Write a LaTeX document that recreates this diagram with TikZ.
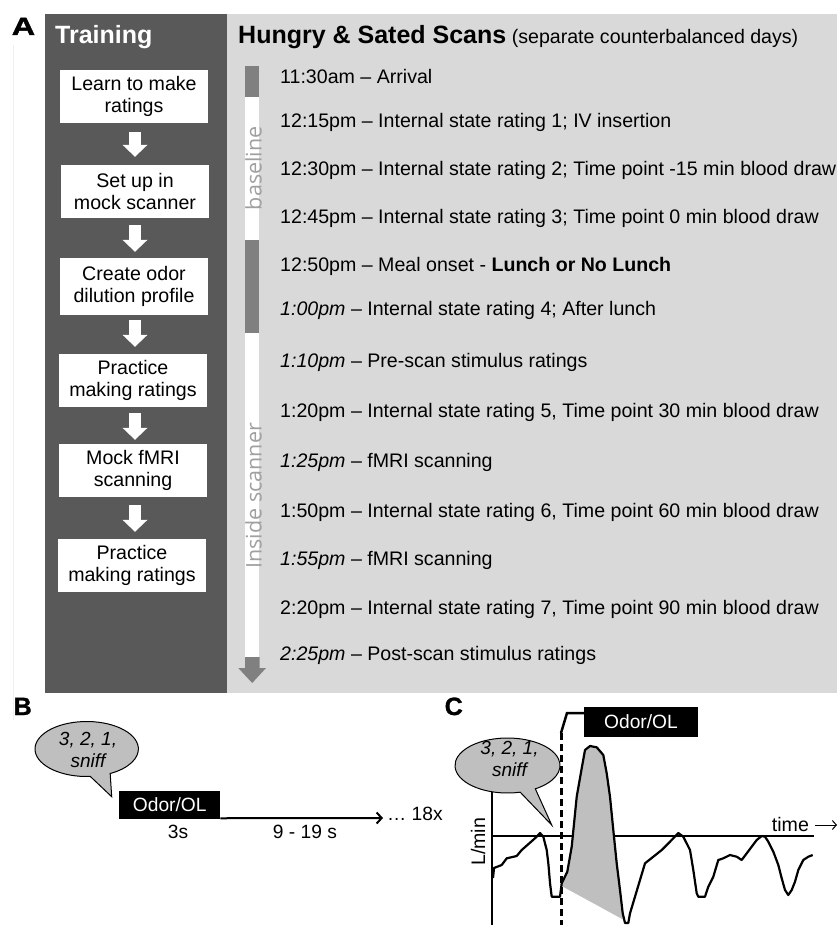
\documentclass[tikz,border=0pt]{standalone}
\usepackage{fontspec}
\setmainfont{Liberation Sans}
\newfontfamily\barfont{Open Sans}
\newfontfamily\labfont[FakeBold=1.2]{Liberation Sans Bold}
\usetikzlibrary{arrows.meta}
\definecolor{darkpanel}{HTML}{595959}
\definecolor{lightpanel}{HTML}{D9D9D9}
\definecolor{bargray}{HTML}{808080}
\definecolor{bublgray}{HTML}{BFBFBF}
\definecolor{labgray}{HTML}{A0A0A0}
\newcommand\rowfs{\fontsize{19.6}{22}\selectfont}
\begin{document}
\begin{tikzpicture}[x=1pt,y=-1pt,
  tbox/.style={fill=white, minimum width=148pt, minimum height=53pt, inner sep=0pt, align=center, font=\rowfs},
  warrow/.style={draw=white, line width=12pt, -{Triangle[width=25pt,length=12pt,line width=0pt]}},
  row/.style={anchor=base west, inner sep=0pt, font=\rowfs},
  barlab/.style={rotate=90, anchor=base, inner sep=0pt, font=\barfont\fontsize{21.5}{24}\selectfont, text=labgray},
  panellab/.style={anchor=base west, inner sep=0pt, font=\bfseries\fontsize{25}{28}\selectfont},
  letterlab/.style={anchor=base west, inner sep=0pt, font=\labfont\fontsize{25}{28}\selectfont},
  blackbox/.style={fill=black, text=white, inner sep=0pt, font=\fontsize{19.2}{22}\selectfont},
  bubble/.style={fill=bublgray, draw=black, line width=1pt},
  bubtext/.style={align=center, inner sep=0pt, font=\itshape\fontsize{19}{22.5}\selectfont},
  trace/.style={line width=2.2pt, line join=round},
]
\useasboundingbox (0,0) rectangle (837,925);
\fill[white] (0,0) rectangle (837,925);

% panels
\fill[darkpanel] (45,14) rectangle (226.5,693);
\fill[lightpanel] (226.5,14) rectangle (837,692.5);
\draw[gray!12, line width=1pt] (13,45) -- (13,720);

% panel labels
\node[letterlab] (labA) at (11.5,35) {\scalebox{1.3}[1]{A}};
\node[panellab, text=white] (train) at (55,43.3) {Training};
\node[panellab] (hung) at (238,43.3) {Hungry \& Sated Scans{\mdseries\rowfs\ (separate counterbalanced days)}};

% timeline bar
\fill[bargray] (245,66) rectangle (259.3,97);
\fill[white] (245,97) rectangle (259.3,240);
\fill[bargray] (245,240) rectangle (259.3,333);
\fill[white] (245,333) rectangle (259.3,657);
\fill[bargray] (245,657) -- (259.5,657) -- (259.5,668) -- (266,668) -- (252.2,683) -- (238.3,668) -- (245,668) -- cycle;
\node[barlab] (lbase) at (261.5,168.3) {baseline};
\node[barlab] (linside) at (261.5,495.8) {Inside scanner};

% rows
\node[row] (r1) at (280,84) {11:30am – Arrival};
\node[row] (r2) at (280,128) {12:15pm – Internal state rating 1; IV insertion};
\node[row] (r3) at (280,176) {12:30pm – Internal state rating 2; Time point -15 min blood draw};
\node[row] (r4) at (280,223) {12:45pm – Internal state rating 3; Time point 0 min blood draw};
\node[row] (r5) at (280,271) {12:50pm – Meal onset - \textbf{Lunch or No Lunch}};
\node[row] (r6) at (280,315) {\textit{1:00pm} – Internal state rating 4; After lunch};
\node[row] (r7) at (280,367) {\textit{1:10pm} – Pre-scan stimulus ratings};
\node[row] (r8) at (280,417) {1:20pm – Internal state rating 5, Time point 30 min blood draw};
\node[row] (r9) at (280,467) {\textit{1:25pm} – fMRI scanning};
\node[row] (r10) at (280,517) {1:50pm – Internal state rating 6, Time point 60 min blood draw};
\node[row] (r11) at (280,565) {\textit{1:55pm} – fMRI scanning};
\node[row] (r12) at (280,614) {2:20pm – Internal state rating 7, Time point 90 min blood draw};
\node[row] (r13) at (280,660) {\textit{2:25pm} – Post-scan stimulus ratings};

% training boxes
\node[tbox] (b1) at (134,96.5) {Learn to make\\ratings};
\node[tbox] (b2) at (135,191.5) {Set up in\\mock scanner};
\node[tbox, minimum height=57pt] (b3) at (134,286.5) {Create odor\\dilution profile};
\node[tbox] (b4) at (133,380.5) {Practice\\making ratings};
\node[tbox] (b5) at (133,470.5) {Mock fMRI\\scanning};
\node[tbox] (b6) at (132,565.5) {Practice\\making ratings};
\draw[warrow, shorten <=9pt, shorten >=8pt] (b1.south -| 135,0) -- (b2.north -| 135,0);
\draw[warrow, shorten <=7pt, shorten >=6pt] (b2.south -| 135,0) -- (b3.north -| 135,0);
\draw[warrow, shorten <=5pt, shorten >=7pt] (b3.south -| 135,0) -- (b4.north -| 135,0);
\draw[warrow, shorten <=6pt, shorten >=4pt] (b4.south -| 135,0) -- (b5.north -| 135,0);
\draw[warrow, shorten <=8pt, shorten >=7pt] (b5.south -| 135,0) -- (b6.north -| 135,0);

% ---------- B ----------
\node[letterlab] (labB) at (13.5,715) {B};
\draw[bubble] (86.7,749) ++(86:51.7 and 27.5) arc[start angle=86, end angle=423, x radius=51.7, y radius=27.5] -- (111.7,796.7) -- cycle;
\node[bubtext] (sB) at (88,750) {3, 2, 1,\\sniff};
\node[blackbox, minimum width=100.7pt, minimum height=28.3pt] (oB) at (169.7,804.9) {Odor/OL};
\coordinate (bend) at (383,818);
\draw[line width=2pt, -{Straight Barb[length=5pt,width=11pt]}] ([yshift=1pt]oB.south east) -- (bend);
\node[row, font=\fontsize{19.2}{22}\selectfont] (rep) at (387,820) {… 18x};
\node[anchor=base, inner sep=0pt, font=\fontsize{19.2}{22}\selectfont] (t3s) at (178,838.3) {3s};
\node[anchor=base, inner sep=0pt, font=\fontsize{19.2}{22}\selectfont] (t919) at (305,838.3) {9 - 19 s};

% ---------- C ----------
\node[letterlab] (labC) at (444.5,715) {C};
\coordinate (yax0) at (492,785);
\coordinate (yax1) at (492,925);
\coordinate (xax0) at (492,836);
\coordinate (xax1) at (814,836);
\draw[line width=1.4pt] (yax0) -- (yax1);
\draw[line width=1.3pt] (xax0) -- (xax1);
\node[row] (time) at (771.7,831.7) {time};
\coordinate (tstart) at (815,825);
\coordinate (tend) at (837,825);
\draw[line width=1pt, -{Straight Barb[length=4pt,width=9pt]}] (tstart) -- (tend);
\node[rotate=90, anchor=base, inner sep=0pt, font=\rowfs] (lmin) at (485,841.7) {L/min};

% shaded area and trace
\fill[bublgray] (561.7,886) -- (567.3,871.7) -- (571.7,846.7) -- (576.7,796.7) -- (581.7,768.3) -- (585,750) -- (590,746) -- (596.7,747.3) -- (603.3,755) -- (606.7,773.3) -- (610,796.7) -- (613.3,830) -- (616.7,863.3) -- (620,890) -- (622.7,913.3) -- (624,920) -- cycle;
\draw[trace] (493,878) -- (494,868) -- (501.7,865) -- (506.7,858.3) -- (516.7,856) -- (521.7,850) -- (530,842.7) -- (536.7,836.7) -- (540,833) -- (543.3,836.7) -- (546.7,850) -- (548.3,863) -- (550,883) -- (551.7,896.7) -- (560,896.7) -- (561.7,883.3) -- (567.3,871.7) -- (571.7,846.7) -- (576.7,796.7) -- (581.7,768.3) -- (585,750) -- (590,746) -- (596.7,747.3) -- (603.3,755) -- (606.7,773.3) -- (610,796.7) -- (613.3,830) -- (616.7,863.3) -- (620,890) -- (622.7,913.3) -- (625,923) -- (628.3,923) -- (630,913.3) -- (635,896.7) -- (640,880) -- (645,863.3) -- (653.3,856.7) -- (661.7,850) -- (670,841.7) -- (678.3,833) -- (683.3,836.7) -- (690,850) -- (693.3,870) -- (696.7,893.3) -- (698.3,896.7) -- (705,896.7) -- (708.3,886.7) -- (713.3,876.7) -- (718.3,860) -- (723.3,858.3) -- (730,855) -- (736.7,856.7) -- (741.7,860) -- (746.7,853.3) -- (751.7,846.7) -- (756.7,840) -- (761.7,836) -- (765,836.7) -- (768.3,841.7) -- (773.3,851.7) -- (778.3,865) -- (781.7,878.3) -- (785,890) -- (788.3,895) -- (791.7,890) -- (795,881.7) -- (798.3,870) -- (803.3,860) -- (808.3,856.7) -- (812.7,855);

% odor marker
\node[blackbox, minimum width=114pt, minimum height=30pt] (oC) at (641,722) {Odor/OL};
\coordinate (dtop) at (561,733);
\coordinate (dbot) at (561,925);
\draw[line width=3pt, dash pattern=on 6.5pt off 4.5pt] (dtop) -- (dbot);
\draw[line width=2.5pt] (dtop) -- ++(6,-20) -- ([yshift=9pt]oC.west);

% bubble C
\draw[bubble] (507.5,765.5) ++(76:52.5 and 27.5) arc[start angle=76, end angle=418, x radius=52.5, y radius=27.5] -- (551.7,825) -- cycle;
\node[bubtext] (sC) at (509.5,759) {3, 2, 1,\\sniff};
\end{tikzpicture}
\end{document}
